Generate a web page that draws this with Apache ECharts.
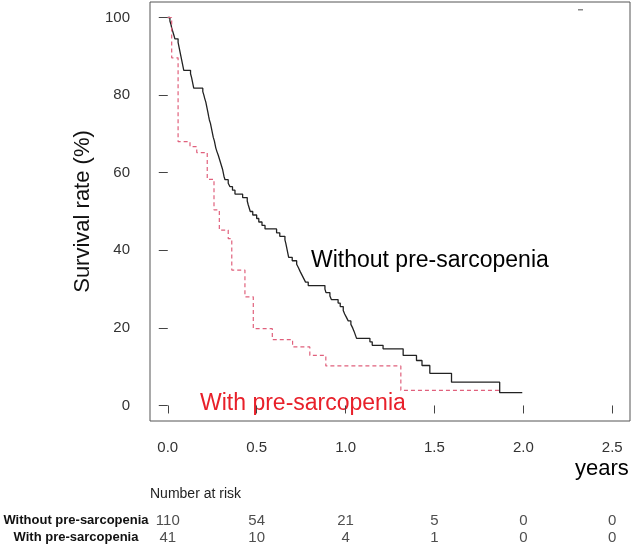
<!DOCTYPE html>
<html>
<head>
<meta charset="utf-8">
<script src="https://cdn.jsdelivr.net/npm/echarts@6/dist/echarts.min.js"></script>
<style>html,body{margin:0;padding:0;background:#fff;}#c{width:634px;height:549px;}</style>
</head>
<body>
<div id="c"></div>
<script>
const xTicks = [0, 0.5, 1, 1.5, 2, 2.5];
const yTicks = [0, 20, 40, 60, 80, 100];
const groups = ['Without pre-sarcopenia', 'With pre-sarcopenia'];
const riskWithout = [110, 54, 21, 5, 0, 0];
const riskWith = [41, 10, 4, 1, 0, 0];

// [time (years), survival %] — survival holds from this time onward
const withoutCurve = [
  [0,100],[0.012,99.1],[0.018,98.2],[0.022,97.3],[0.028,96.4],[0.034,95.5],[0.040,94.5],
  [0.058,93.6],[0.062,92.7],[0.066,91.8],[0.070,90.9],[0.074,90.0],[0.078,89.1],[0.082,88.2],[0.086,87.3],[0.090,86.4],
  [0.128,85.5],[0.134,84.5],[0.138,83.6],[0.142,82.7],[0.146,81.8],
  [0.197,80.9],[0.203,80.0],[0.208,79.1],[0.214,78.2],[0.218,77.3],[0.222,76.4],[0.226,75.5],[0.230,74.5],
  [0.234,73.6],[0.240,72.7],[0.244,71.8],[0.248,70.9],[0.252,70.0],[0.256,69.1],[0.262,68.2],[0.266,67.3],
  [0.270,66.4],[0.276,65.5],[0.284,64.5],[0.290,63.6],[0.296,62.7],[0.302,61.8],[0.308,60.9],[0.312,60.0],
  [0.316,59.1],[0.322,58.2],[0.340,57.3],[0.350,56.4],[0.364,55.5],[0.378,54.5],[0.421,53.6],[0.447,52.7],
  [0.452,51.8],[0.458,50.9],[0.464,50.0],[0.478,49.1],[0.500,48.2],[0.512,47.3],[0.530,46.4],[0.547,45.5],
  [0.612,44.5],[0.630,43.6],[0.659,42.7],[0.664,41.8],[0.668,40.9],[0.672,40.0],[0.676,39.1],[0.680,38.2],
  [0.700,37.3],[0.725,36.4],[0.735,35.5],[0.745,34.5],[0.755,33.6],[0.765,32.7],[0.775,31.8],[0.790,30.9],
  [0.884,30.0],[0.890,29.1],[0.912,28.2],[0.920,27.3],[0.958,26.4],[0.970,25.5],[0.987,24.5],[0.995,23.6],
  [1.005,22.7],[1.015,21.8],[1.030,20.9],[1.040,20.0],[1.048,19.1],[1.055,18.2],[1.062,17.3],
  [1.137,16.4],[1.150,15.5],[1.211,14.6],[1.324,12.9],[1.399,11.6],[1.430,10.3],[1.474,8.3],
  [1.596,6.0],[1.867,3.3],[1.994,3.3]
];
const withCurve = [
  [0,100],[0.022,89.6],[0.058,68.0],[0.125,66.7],[0.163,65.2],[0.222,58.3],[0.260,50.4],
  [0.290,45.2],[0.340,43.0],[0.360,34.9],[0.434,28.0],[0.481,19.8],[0.588,17.0],[0.702,15.1],
  [0.799,12.9],[0.889,10.2],[1.311,3.9],[1.867,3.9]
];

const FONT = 'Liberation Sans, Arial, sans-serif';
const NARROW = 'Liberation Sans Narrow, Arial Narrow, Liberation Sans, sans-serif';

const chart = echarts.init(document.getElementById('c'), null, {renderer: 'canvas'});
chart.setOption({
  animation: false,
  backgroundColor: '#fff',
  grid: [
    {left: 150, top: 2, width: 480, height: 419, show: true, borderColor: '#555', borderWidth: 1, containLabel: false},
    {left: 150, top: 512, width: 480, height: 34, show: false, containLabel: false}
  ],
  xAxis: [
    {
      gridIndex: 0, type: 'value', min: -0.1, max: 2.6,
      axisLine: {show: false},
      splitLine: {show: false},
      axisTick: {show: true, length: 8, customValues: xTicks, lineStyle: {color: '#444', width: 1}},
      axisLabel: {customValues: xTicks, margin: 19, color: '#333', fontSize: 15, fontFamily: FONT,
        formatter: v => v.toFixed(1)}
    },
    {
      gridIndex: 1, type: 'value', min: -0.1, max: 2.6, show: false
    }
  ],
  yAxis: [
    {
      gridIndex: 0, type: 'value', min: -4, max: 104,
      name: 'Survival rate (%)', nameLocation: 'middle', nameGap: 53,
      nameTextStyle: {fontSize: 22, color: '#111', fontFamily: FONT},
      axisLine: {show: false},
      splitLine: {show: false},
      axisTick: {show: true, length: 9, customValues: yTicks, lineStyle: {color: '#444', width: 1}},
      axisLabel: {customValues: yTicks, margin: 20, color: '#333', fontSize: 15, fontFamily: FONT}
    },
    {
      gridIndex: 1, type: 'category', data: groups, inverse: true,
      axisLine: {show: false}, axisTick: {show: false}, splitLine: {show: false},
      axisLabel: {align: 'center', margin: 74, color: '#111', fontWeight: 'bold', fontSize: 13, fontFamily: NARROW}
    }
  ],
  series: [
    {
      name: groups[0], type: 'line', step: 'end', xAxisIndex: 0, yAxisIndex: 0,
      data: withoutCurve, showSymbol: false, symbol: 'none',
      lineStyle: {color: '#222', width: 1.3}
    },
    {
      name: groups[1], type: 'line', step: 'end', xAxisIndex: 0, yAxisIndex: 0,
      data: withCurve, showSymbol: false, symbol: 'none',
      lineStyle: {color: '#e0607c', width: 1.2, type: [4, 3]}
    },
    {
      type: 'scatter', xAxisIndex: 1, yAxisIndex: 1, symbolSize: 0,
      data: riskWithout.map((v, i) => [xTicks[i], groups[0], v]),
      label: {show: true, position: 'inside', formatter: p => p.value[2], color: '#222', fontSize: 15, fontFamily: NARROW}
    },
    {
      type: 'scatter', xAxisIndex: 1, yAxisIndex: 1, symbolSize: 0,
      data: riskWith.map((v, i) => [xTicks[i], groups[1], v]),
      label: {show: true, position: 'inside', formatter: p => p.value[2], color: '#222', fontSize: 15, fontFamily: NARROW}
    }
  ],
  graphic: [
    {type: 'text', left: 311, top: 249, style: {text: 'Without pre-sarcopenia', fontSize: 23, fontFamily: FONT, fill: '#000'}},
    {type: 'text', left: 200, top: 392, style: {text: 'With pre-sarcopenia', fontSize: 23, fontFamily: FONT, fill: '#e8202a'}},
    {type: 'text', left: 575, top: 458, style: {text: 'years', fontSize: 22, fontFamily: FONT, fill: '#000'}},
    {type: 'text', left: 150, top: 487, style: {text: 'Number at risk', fontSize: 14, fontFamily: NARROW, fill: '#222'}},
    {type: 'rect', shape: {x: 578, y: 9, width: 5, height: 1.5}, style: {fill: '#888'}}
  ]
});
</script>
</body>
</html>
